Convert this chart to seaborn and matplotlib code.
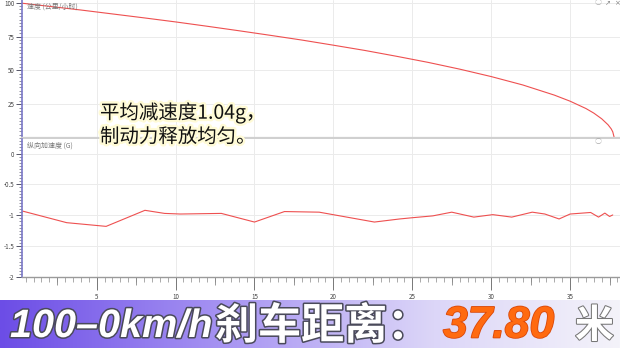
import numpy as np
import matplotlib
matplotlib.use('Agg')
import matplotlib.pyplot as plt
import seaborn as sns
from matplotlib.ticker import MultipleLocator, FixedLocator
import matplotlib.patheffects as pe
from matplotlib.colors import LinearSegmentedColormap

# ---- data ----
speed_dist = [0, 2, 4, 6, 8, 10, 12, 14, 16, 18, 20, 22, 24, 26, 28, 30, 32, 34,
              35, 36, 36.5, 37, 37.4, 37.6, 37.7, 37.8]
speed_kmh = [100, 97.3, 94.6, 91.7, 88.8, 85.8, 82.6, 79.3, 75.9, 72.4, 68.6, 64.7,
             60.4, 55.9, 50.9, 45.4, 39.2, 31.7, 27.2, 21.8, 18.4, 14.2, 9.8, 6.8, 4.6, 0]

acc_dist = [0.27, 3.1, 5.6, 8.06, 9.3, 10.3, 12.9, 15.0, 16.9, 19.1, 22.6, 24.2, 25.0,
            26.3, 27.5, 28.9, 30.1, 31.3, 32.6, 33.4, 34.3, 35.0, 36.3, 36.8, 37.2,
            37.5, 37.7]
acc_g = [-0.93, -1.12, -1.18, -0.92, -0.97, -0.98, -0.97, -1.11, -0.94, -0.95, -1.11,
         -1.06, -1.04, -1.01, -0.95, -1.03, -0.99, -1.03, -0.95, -0.98, -1.06, -0.98,
         -0.955, -1.03, -0.965, -1.02, -0.995]

speed_yticks = [25, 50, 75, 100]
acc_yticks = [0, -0.5, -1, -1.5, -2]
acc_yticklabels = ['0', '-0.5', '-1', '-1.5', '-2']
x_ticks = [5, 10, 15, 20, 25, 30, 35]
x_mid_ticks = [2.5, 7.5, 12.5, 17.5, 22.5, 27.5, 32.5, 37.5]
speed_label = '速度 (公里/小时)'
acc_label = '纵向加速度 (G)'
note_lines = ['平均减速度1.04g，', '制动力释放均匀。']
banner_parts = ['100–0km/h', '刹车距离：', '37.80', '米']

sns.set_theme(style='white')
plt.rcParams['font.family'] = ['Noto Sans CJK SC', 'DejaVu Sans']

W, H = 620, 348
fig = plt.figure(figsize=(6.2, 3.48), dpi=100)
fig.patch.set_facecolor('white')

XLIM = (0.27, 38.16)
LINE_C = '#ee5050'
SPINE_C = '#7a78c8'
GRID_C = '#ebebeb'

ax1 = fig.add_axes([22 / W, 1 - 138 / H, 598 / W, 138 / H])
ax2 = fig.add_axes([22 / W, 1 - 277 / H, 598 / W, 138 / H])

sns.lineplot(x=speed_dist, y=speed_kmh, ax=ax1, color=LINE_C, lw=0.8,
             sort=False, estimator=None)
sns.lineplot(x=acc_dist, y=acc_g, ax=ax2, color=LINE_C, lw=0.8,
             sort=False, estimator=None)

for ax in (ax1, ax2):
    ax.set_xlim(*XLIM)
    ax.set_facecolor('white')
    ax.xaxis.set_major_locator(FixedLocator(x_ticks))
    ax.xaxis.set_minor_locator(MultipleLocator(0.5))
    ax.grid(True, which='major', color=GRID_C, lw=0.7)
    ax.spines['top'].set_visible(False)
    ax.spines['right'].set_visible(False)
    ax.spines['left'].set_color(SPINE_C)
    ax.spines['left'].set_linewidth(1.2)
    ax.tick_params(axis='y', which='major', direction='out', length=4, width=0.7,
                   color='#556', labelsize=4.5, labelcolor='#444', pad=1.5, left=True)
    ax.tick_params(axis='y', which='minor', direction='out', length=2, width=0.5,
                   color='#667', left=True)
    ax.set_xlabel('')
    ax.set_ylabel('')

# top panel
ax1.set_ylim(0, 102)
ax1.set_yticks(speed_yticks)
ax1.set_yticklabels([str(v) for v in speed_yticks])
ax1.yaxis.set_minor_locator(MultipleLocator(2.5))
ax1.tick_params(axis='x', which='both', bottom=False, labelbottom=False)
ax1.spines['bottom'].set_color('#d0d0d0')
ax1.spines['bottom'].set_linewidth(1.6)
ax1.text(5 / 598, 1 - 7 / 138, speed_label, transform=ax1.transAxes, fontsize=5,
         color='#777', va='center', ha='left')

# bottom panel
ax2.set_ylim(-2, 0.235)
ax2.set_yticks(acc_yticks)
ax2.set_yticklabels(acc_yticklabels)
ax2.yaxis.set_minor_locator(MultipleLocator(0.05))
ax2.spines['bottom'].set_color('#9a9a9a')
ax2.spines['bottom'].set_linewidth(1.0)
ax2.set_xticks(x_ticks)
ax2.set_xticklabels([str(v) for v in x_ticks])
ax2.tick_params(axis='x', which='major', direction='out', length=9, width=0.7,
                color='#777', labelsize=4.5, labelcolor='#444', pad=2.5, bottom=True)
ax2.tick_params(axis='x', which='minor', direction='out', length=3.5, width=0.5,
                color='#888', bottom=True)
sec = ax2.secondary_xaxis('bottom')
sec.set_xticks(x_mid_ticks)
sec.tick_params(axis='x', length=5.5, width=0.6, color='#888', labelbottom=False)
for s in sec.spines.values():
    s.set_visible(False)
ax2.text(5 / 598, 1 - 7 / 138, acc_label, transform=ax2.transAxes, fontsize=5,
         color='#777', va='center', ha='left')

# small ui icons
fig.text(598 / W, 1 - 3 / H, '○', fontsize=5, color='#aaa', ha='center', va='center')
fig.text(608 / W, 1 - 3 / H, '↗', fontsize=5, color='#888', ha='center', va='center',
         family=['DejaVu Sans'])
fig.text(617 / W, 1 - 3 / H, '×', fontsize=5, color='#888', ha='center', va='center',
         family=['DejaVu Sans'])
fig.text(598 / W, 1 - 142 / H, '○', fontsize=5, color='#aaa', ha='center', va='center')

# annotation
glow = [pe.withStroke(linewidth=3.5, foreground='#fffbd6')]
fig.text(100 / W, 1 - 113 / H, note_lines[0], fontsize=14, color='#111',
         ha='left', va='center', path_effects=glow)
fig.text(100 / W, 1 - 137 / H, note_lines[1], fontsize=14, color='#111',
         ha='left', va='center', path_effects=glow)

# banner
bax = fig.add_axes([0, 0, 1, 48 / H])
cmap = LinearSegmentedColormap.from_list(
    'band', [(0, '#6c4de6'), (0.35, '#a592f2'), (0.7, '#dcd6f8'), (1, '#f4f3fa')])
grad = np.linspace(0, 1, 256)[None, :]
bax.imshow(grad, aspect='auto', cmap=cmap, extent=[0, 1, 0, 1])
bax.set_axis_off()

outline = [pe.withStroke(linewidth=2.2, foreground='#4a4a5a')]
yb = 1 - 326 / H
fig.text(10 / W, yb, banner_parts[0], fontsize=28.5, color='white', weight='bold',
         style='italic', family=['Liberation Sans'], ha='left', va='center',
         path_effects=outline)
fig.text(215 / W, yb, banner_parts[1], fontsize=31, color='white', weight='bold',
         ha='left', va='center', path_effects=outline)
fig.text(443 / W, yb, banner_parts[2], fontsize=32, color='#ff6a10', weight='bold',
         style='italic', family=['Liberation Sans'], ha='left', va='center',
         path_effects=[pe.withStroke(linewidth=1.2, foreground='#d9480a')])
fig.text(575 / W, yb, banner_parts[3], fontsize=28, color='white', weight='bold',
         ha='left', va='center',
         path_effects=[pe.withStroke(linewidth=1.5, foreground='#777')])

fig.savefig('out.png', dpi=100)
